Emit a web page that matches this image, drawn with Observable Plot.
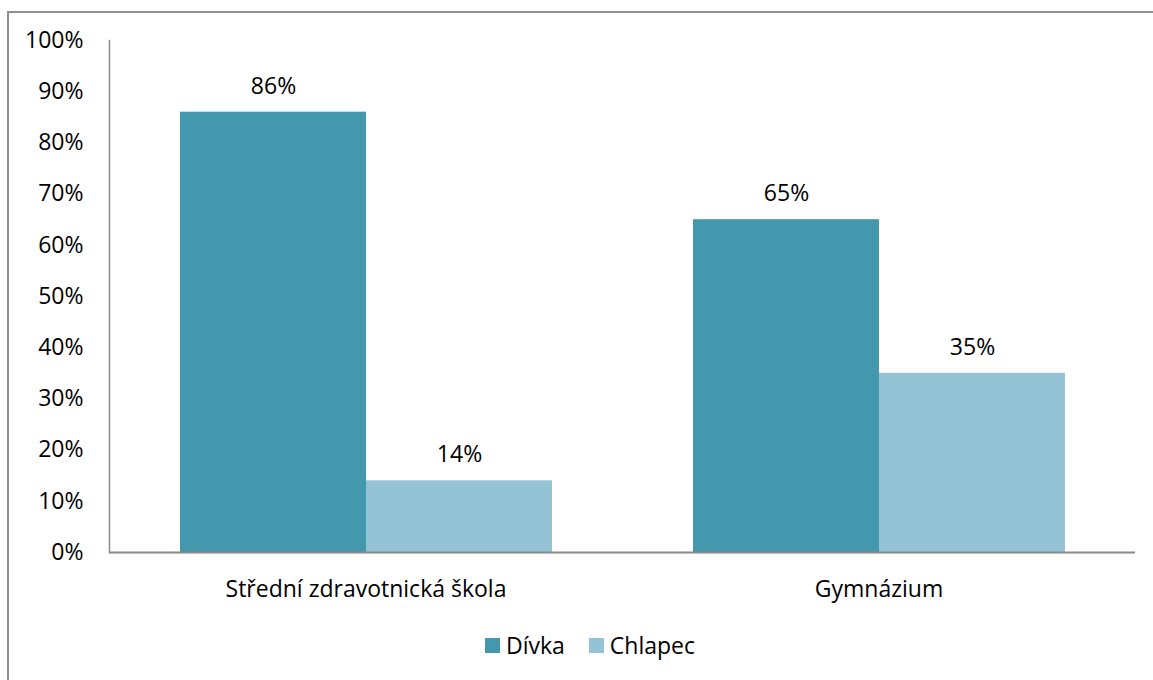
<!DOCTYPE html>
<html>
<head>
<meta charset="utf-8">
<script src="https://cdn.jsdelivr.net/npm/d3@7"></script>
<script src="https://cdn.jsdelivr.net/npm/@observablehq/plot@0.6"></script>
<style>
  html, body { margin: 0; padding: 0; background: #fff; overflow: hidden; }
  #wrap { position: relative; width: 1153px; height: 680px; overflow: hidden; font-family: "Open Sans", sans-serif; }
  #border { position: absolute; left: 7px; top: 11px; width: 3000px; height: 3000px; border-left: 2px solid #8f8f8f; border-top: 2px solid #8f8f8f; }
  #chart { position: absolute; left: 0; top: 0; }
  #legend { position: absolute; top: 629px; left: 0; width: 1180px; display: flex; justify-content: center; gap: 24px; font-size: 23px; color: #000; }
  .item { display: flex; align-items: center; gap: 6px; }
  .sw { width: 15px; height: 15px; display: inline-block; }
</style>
</head>
<body>
<div id="wrap">
  <div id="border"></div>
  <div id="chart"></div>
  <div id="legend"></div>
</div>
<script>
const categories = ["Střední zdravotnická škola", "Gymnázium"];
const series = ["Dívka", "Chlapec"];
const divka = [0.86, 0.65];
const chlapec = [0.14, 0.35];
const colors = ["#4398AE", "#93C3D4"];
const yTicks = [0, 0.1, 0.2, 0.3, 0.4, 0.5, 0.6, 0.7, 0.8, 0.9, 1.0];

const data = [];
categories.forEach((c, i) => {
  data.push({category: c, series: series[0], value: divka[i]});
  data.push({category: c, series: series[1], value: chlapec[i]});
});

const plot = Plot.plot({
  width: 1153,
  height: 620,
  marginLeft: 109,
  marginRight: 18,
  marginTop: 40,
  marginBottom: 68,
  style: {fontFamily: "Open Sans, sans-serif", fontSize: "23px", color: "#000", background: "transparent", overflow: "visible"},
  fx: {domain: categories, padding: 0, label: null, tickSize: 0, tickPadding: 28, axis: "bottom"},
  x: {domain: series, paddingInner: 0, paddingOuter: 0.372, axis: null},
  y: {domain: [0, 1], ticks: yTicks, tickFormat: d3.format(".0%"), tickSize: 0, tickPadding: 26, label: null},
  color: {domain: series, range: colors},
  marks: [
    Plot.barY(data, {fx: "category", x: "series", y: "value", fill: "series"}),
    Plot.text(data, {fx: "category", x: "series", y: "value", text: d => d3.format(".0%")(d.value), dy: -26, fontSize: 23, fill: "#000"}),
    Plot.ruleY([0], {stroke: "#888", strokeWidth: 2}),
    Plot.frame({anchor: "left", facetAnchor: "left", stroke: "#888", strokeWidth: 1.5})
  ]
});
document.getElementById("chart").appendChild(plot);

const legend = document.getElementById("legend");
series.forEach((s, i) => {
  const item = document.createElement("div");
  item.className = "item";
  const sw = document.createElement("span");
  sw.className = "sw";
  sw.style.background = colors[i];
  const t = document.createElement("span");
  t.textContent = s;
  item.appendChild(sw);
  item.appendChild(t);
  legend.appendChild(item);
});
</script>
</body>
</html>
